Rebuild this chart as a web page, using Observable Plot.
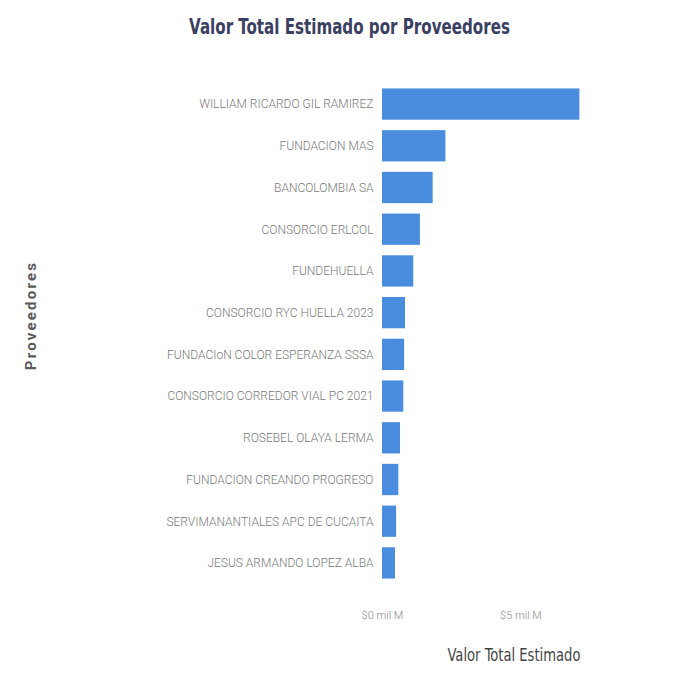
<!DOCTYPE html>
<html>
<head>
<meta charset="utf-8">
<script src="https://cdn.jsdelivr.net/npm/d3@7"></script>
<script src="https://cdn.jsdelivr.net/npm/@observablehq/plot@0.6"></script>
<style>
  body { margin: 0; background: #fff; }
  #title {
    height: 50px; box-sizing: border-box; padding-top: 17px; padding-left: 16px;
    text-align: center; font-family: "Liberation Sans Narrow", "DejaVu Sans Condensed", sans-serif;
    font-weight: bold; font-size: 21px; color: #3a4062; line-height: 1;
  }
  #title span { display: inline-block; transform: scaleX(0.8); transform-origin: center; white-space: nowrap; }
  g[aria-label="y-axis tick label"] text, g[aria-label="x-axis tick label"] text { font-weight: 300; }
  svg { display: block; }
</style>
</head>
<body>
<div id="title"><span>Valor Total Estimado por Proveedores</span></div>
<div id="chart"></div>
<script>
const proveedores = [
  "WILLIAM RICARDO GIL RAMIREZ",
  "FUNDACION MAS",
  "BANCOLOMBIA SA",
  "CONSORCIO ERLCOL",
  "FUNDEHUELLA",
  "CONSORCIO RYC HUELLA 2023",
  "FUNDACIoN COLOR ESPERANZA SSSA",
  "CONSORCIO CORREDOR VIAL PC 2021",
  "ROSEBEL OLAYA LERMA",
  "FUNDACION CREANDO PROGRESO",
  "SERVIMANANTIALES APC DE CUCAITA",
  "JESUS ARMANDO LOPEZ ALBA"
];
const valores = [7.13, 2.29, 1.83, 1.37, 1.13, 0.83, 0.80, 0.77, 0.65, 0.59, 0.51, 0.47];
const xTicks = [0, 5];
const xLabel = "Valor Total Estimado";
const yLabel = "Proveedores";

const data = proveedores.map((p, i) => ({proveedor: p, valor: valores[i]}));

const chart = Plot.plot({
  width: 684,
  height: 623,
  marginLeft: 382,
  marginRight: 39,
  marginTop: 28,
  marginBottom: 84,
  style: {fontFamily: "Roboto, 'Open Sans', sans-serif", background: "#fff"},
  x: {domain: [0, 9.5], axis: null},
  y: {domain: proveedores, padding: 0.25, round: false, axis: null},
  marks: [
    Plot.barX(data, {x: "valor", y: "proveedor", fill: "#4a8ddf"}),
    Plot.axisY({tickSize: 0, tickPadding: 9, fontSize: 12, color: "#7a7a7a", label: null}),
    Plot.axisX({ticks: xTicks, tickSize: 0, tickPadding: 22, fontSize: 11, color: "#8a8a8a",
      tickFormat: d => `$${d} mil M`, label: null}),
    Plot.text([xLabel], {frameAnchor: "bottom", dy: 66, lineAnchor: "middle", fontSize: 17,
      fill: "#444", fontFamily: "'Liberation Sans Narrow', 'DejaVu Sans Condensed', sans-serif"}),
    Plot.text([yLabel], {frameAnchor: "left", textAnchor: "middle", dx: -351, dy: -18.5, rotate: -90,
      lineAnchor: "middle", fontSize: 15, fontWeight: "bold", fill: "#5a5a5a"})
  ]
});
d3.select(chart).selectAll("text").each(function() {
  const t = d3.select(this);
  if (t.text() === yLabel) t.style("letter-spacing", "2.2px");
  if (t.text() === xLabel) t.attr("textLength", 133).attr("lengthAdjust", "spacingAndGlyphs");
});
document.getElementById("chart").appendChild(chart);
</script>
</body>
</html>
